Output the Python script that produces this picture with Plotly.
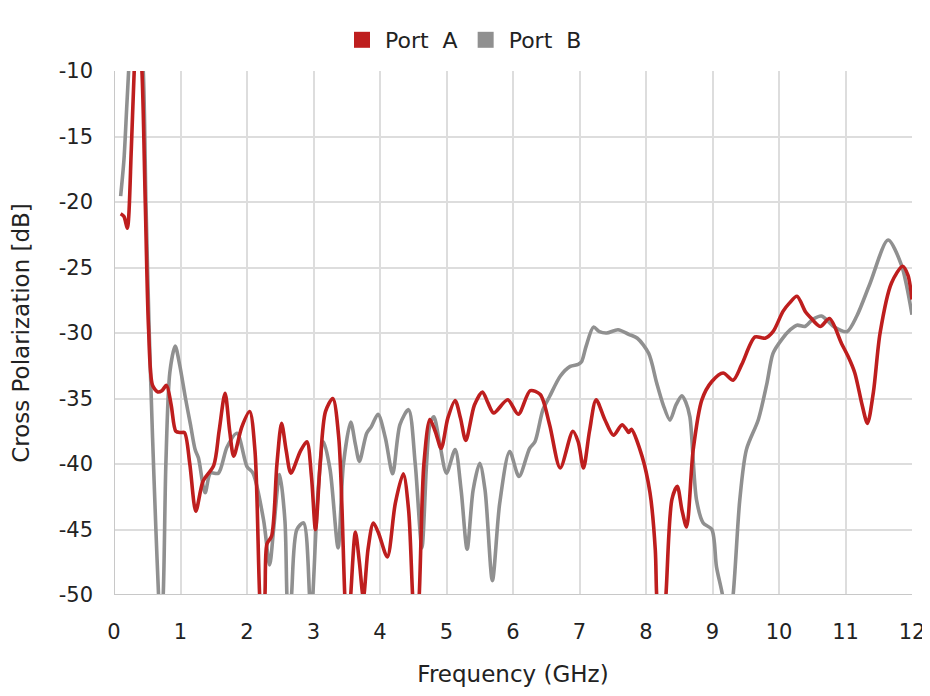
import plotly.graph_objects as go

freq_a = [0.10, 0.15, 0.20, 0.26, 0.30, 0.34, 0.38, 0.42, 0.47, 0.52, 0.58, 0.66, 0.72, 0.79, 0.86, 0.93,
          1.00, 1.06, 1.14, 1.23, 1.34, 1.50, 1.58, 1.67, 1.74, 1.80, 1.92, 2.04, 2.12, 2.19, 2.23, 2.27,
          2.30, 2.37, 2.45, 2.52, 2.59, 2.66, 2.80, 2.90, 2.97, 3.03, 3.10, 3.18, 3.29, 3.38, 3.47, 3.51,
          3.56, 3.63, 3.69, 3.75, 3.82, 3.90, 3.98, 4.11, 4.23, 4.35, 4.43, 4.49, 4.54, 4.59, 4.66, 4.75,
          4.83, 4.92, 5.02, 5.13, 5.21, 5.29, 5.42, 5.54, 5.62, 5.71, 5.92, 6.08, 6.26, 6.41, 6.55, 6.71,
          6.90, 6.98, 7.06, 7.15, 7.25, 7.38, 7.51, 7.64, 7.71, 7.74, 7.78, 7.94, 8.06, 8.14, 8.16, 8.23,
          8.30, 8.39, 8.47, 8.54, 8.61, 8.71, 8.84, 8.99, 9.16, 9.31, 9.44, 9.64, 9.79, 9.91, 10.06, 10.16,
          10.27, 10.40, 10.47, 10.62, 10.76, 10.94, 11.04, 11.14, 11.25, 11.33, 11.42, 11.52, 11.69, 11.86,
          11.94, 12.00]
port_a = [-20.9, -21.1, -22.0, -16.0, -10.5, -7.0, -7.5, -10.0, -20.0, -29.7, -34.0, -34.5, -34.4, -34.0, -35.5, -37.5,
          -37.6, -37.6, -40.0, -43.6, -41.3, -40.1, -37.5, -34.6, -37.5, -39.4, -37.2, -36.0, -39.0, -50.0, -53.0, -50.0,
          -46.1, -45.5, -40.0, -36.9, -39.0, -40.7, -39.05, -38.3, -41.0, -45.0, -40.0, -36.0, -35.0, -38.0, -50.0, -54.0,
          -50.0, -45.2, -47.5, -50.2, -46.5, -44.5, -45.3, -47.1, -43.0, -40.75, -43.5, -50.0, -54.0, -50.0, -40.0, -36.6,
          -37.5, -38.8, -36.5, -35.15, -36.5, -38.2, -35.5, -34.5, -35.3, -36.1, -35.1, -36.2, -34.4, -34.7, -37.0, -40.3,
          -37.5, -38.3, -40.3, -37.5, -35.1, -36.6, -37.8, -37.0, -37.4, -37.6, -37.35, -39.4, -42.2, -46.6, -50.0, -55.0,
          -50.0, -42.7, -41.7, -43.5, -44.8, -38.9, -35.1, -33.7, -33.05, -33.6, -32.4, -30.3, -30.4, -29.9, -28.35, -27.7,
          -27.2, -28.4, -28.8, -29.5, -28.9, -30.8, -31.8, -33.05, -35.5, -36.9, -34.5, -30.0, -26.2, -24.9,
          -25.6, -27.45]

freq_b = [0.10, 0.15, 0.19, 0.22, 0.26, 0.32, 0.38, 0.44, 0.48, 0.53, 0.58, 0.63, 0.67, 0.70, 0.74, 0.78,
          0.84, 0.92, 0.99, 1.07, 1.15, 1.22, 1.27, 1.37, 1.45, 1.57, 1.70, 1.85, 2.00, 2.09, 2.25, 2.34,
          2.40, 2.49, 2.57, 2.60, 2.63, 2.67, 2.75, 2.85, 2.94, 2.96, 2.99, 3.07, 3.15, 3.25, 3.37, 3.45,
          3.56, 3.63, 3.69, 3.80, 3.87, 3.97, 4.08, 4.19, 4.30, 4.43, 4.53, 4.63, 4.70, 4.75, 4.81, 4.90,
          5.00, 5.13, 5.22, 5.31, 5.40, 5.50, 5.58, 5.69, 5.80, 5.95, 6.09, 6.25, 6.33, 6.45, 6.55, 6.71,
          6.86, 6.98, 7.03, 7.10, 7.21, 7.30, 7.41, 7.58, 7.74, 7.87, 8.04, 8.16, 8.26, 8.36, 8.45, 8.54,
          8.60, 8.66, 8.76, 8.86, 8.99, 9.06, 9.15, 9.23, 9.31, 9.41, 9.51, 9.69, 9.82, 9.91, 10.04, 10.17,
          10.27, 10.39, 10.51, 10.64, 10.82, 11.02, 11.17, 11.37, 11.64, 11.84, 12.00]
port_b = [-19.55, -16.75, -12.9, -10.0, -6.0, -4.0, -6.0, -10.0, -20.0, -30.0, -38.0, -45.0, -50.0, -53.0, -50.0, -40.0,
          -33.0, -31.0, -32.5, -34.85, -37.0, -38.9, -39.55, -42.2, -40.7, -40.7, -38.7, -37.65, -40.2, -40.7, -44.3, -47.7,
          -45.0, -40.8, -44.3, -50.0, -53.0, -50.0, -45.0, -44.5, -50.0, -52.0, -50.0, -42.0, -38.3, -40.45, -46.4, -40.0,
          -36.8, -38.5, -39.8, -37.65, -37.15, -36.2, -38.0, -40.75, -37.0, -35.85, -40.0, -46.4, -40.0, -37.0, -36.4, -38.5,
          -40.7, -38.9, -42.0, -46.5, -42.0, -39.95, -42.0, -48.9, -43.0, -39.05, -40.95, -38.8, -38.3, -35.85, -34.85, -33.3,
          -32.55, -32.4, -32.2, -31.0, -29.55, -29.9, -30.0, -29.75, -30.1, -30.4, -31.55, -33.8, -35.5, -36.65, -35.5, -34.8,
          -35.3, -36.4, -42.75, -44.5, -45.0, -47.85, -50.0, -53.0, -50.0, -42.75, -38.9, -36.6, -33.8, -31.55, -30.5, -29.75,
          -29.4, -29.5, -28.95, -28.7, -29.5, -29.9, -28.7, -26.2, -22.9, -24.8, -28.6]

series_names = ["Port  A", "Port  B"]
x_ticks = list(range(0, 13))
y_ticks = [-10, -15, -20, -25, -30, -35, -40, -45, -50]
y_ticktext = ["-10", "-15", "-20", "-25", "-30", "-35", "-40", "-45", "-50"]

RED = "#BE1E1E"
GRAY = "#909090"
FONT = "DejaVu Sans"

# the page body has an 8px margin, so the figure is sized/placed to compensate
W, H = 922, 688

fig = go.Figure()
fig.add_trace(go.Scatter(x=freq_b, y=port_b, mode="lines", name=series_names[1],
                         line=dict(color=GRAY, width=3.6, shape="spline", smoothing=0.8),
                         showlegend=False))
fig.add_trace(go.Scatter(x=freq_a, y=port_a, mode="lines", name=series_names[0],
                         line=dict(color=RED, width=3.6, shape="spline", smoothing=0.8),
                         showlegend=False))
for name, col in [(series_names[0], RED), (series_names[1], GRAY)]:
    fig.add_trace(go.Scatter(x=[None], y=[None], mode="markers", name=name,
                             marker=dict(symbol="square", size=23, color=col)))

fig.update_layout(
    width=W, height=H,
    margin=dict(l=106, r=18, t=63, b=101, autoexpand=False),
    paper_bgcolor="white", plot_bgcolor="white",
    font=dict(family=FONT, size=18, color="#222"),
    legend=dict(orientation="h", xref="container", yref="container",
                x=455 / W, xanchor="center", y=1 - 32 / H, yanchor="middle",
                font=dict(size=22, color="#222"), itemwidth=36, tracegroupgap=0),
)
fig.update_xaxes(range=[0, 12], tickvals=x_ticks, showgrid=True, gridcolor="#DDDDDD", gridwidth=1.5,
                 zeroline=False, showline=False, ticks="", tickfont=dict(size=21), automargin=False,
                 ticklabelstandoff=22,
                 title=dict(text="Frequency (GHz)", font=dict(size=23), standoff=22))
fig.update_yaxes(range=[-50, -10], tickvals=y_ticks, ticktext=y_ticktext, showgrid=True,
                 gridcolor="#DDDDDD", gridwidth=1.5, zeroline=False, showline=False, ticks="",
                 tickfont=dict(size=21), automargin=False, ticklabelstandoff=20,
                 title=dict(text="Cross Polarization [dB]", font=dict(size=23), standoff=22))
fig.update_layout(shapes=[
    dict(type="line", xref="x", yref="paper", x0=0, x1=0, y0=0, y1=1, line=dict(color="#C8C8C8", width=2)),
    dict(type="line", xref="paper", yref="y", x0=0, x1=1, y0=-50, y1=-50, line=dict(color="#C8C8C8", width=2)),
])

fig.write_html("out.html")
